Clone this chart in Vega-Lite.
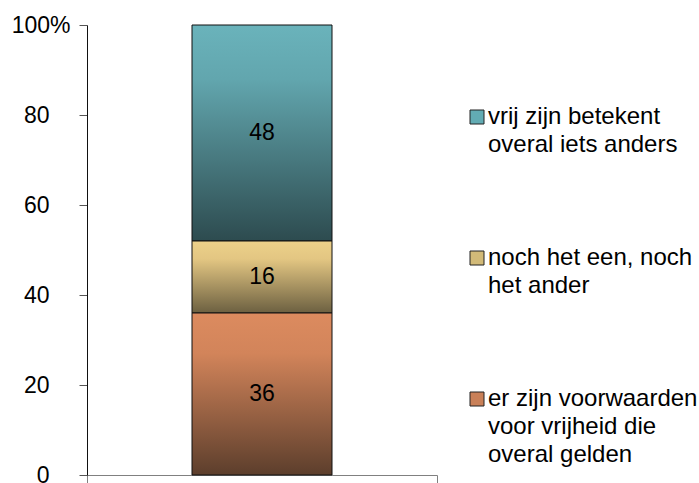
{
  "$schema": "https://vega.github.io/schema/vega-lite/v6.json",
  "autosize": "none",
  "width": 350,
  "height": 450,
  "padding": {"left": 87, "top": 25, "right": 262, "bottom": 8},
  "background": "white",
  "data": {
    "values": [
      {"groep": "totaal", "antwoord": "vrij zijn betekent overal iets anders", "percentage": 48},
      {"groep": "totaal", "antwoord": "noch het een, noch het ander", "percentage": 16},
      {"groep": "totaal", "antwoord": "er zijn voorwaarden voor vrijheid die overal gelden", "percentage": 36}
    ]
  },
  "layer": [
    {
      "mark": {"type": "bar", "width": {"band": 0.4}, "stroke": "#111111", "strokeWidth": 1},
      "encoding": {
        "x": {
          "field": "groep", "type": "nominal",
          "scale": {"paddingInner": 0, "paddingOuter": 0},
          "axis": {"labels": false, "title": null, "tickBand": "extent", "tickSize": 8, "domainColor": "#808080", "tickColor": "#808080"}
        },
        "y": {
          "field": "percentage", "type": "quantitative", "stack": "zero",
          "scale": {"domain": [0, 100], "nice": false},
          "axis": {
            "values": [0, 20, 40, 60, 80, 100],
            "title": null, "grid": false, "tickSize": 8,
            "labelExpr": "datum.value == 100 ? '100%' : datum.label",
            "labelPadding": {"condition": {"test": "datum.value == 100", "value": 9}, "value": 30},
            "domainColor": "#111111", "tickColor": "#555555"
          }
        },
        "order": {"field": "antwoord", "sort": "ascending"},
        "fill": {
          "field": "antwoord", "type": "nominal",
          "scale": {
            "domain": ["vrij zijn betekent overal iets anders", "noch het een, noch het ander", "er zijn voorwaarden voor vrijheid die overal gelden"],
            "range": ["#62abb3", "#d2ba78", "#c98058"]
          },
          "legend": {
            "orient": "none", "legendX": 378, "legendY": 80,
            "title": null, "symbolType": "square", "symbolSize": 196,
            "symbolStrokeColor": "#222222", "symbolStrokeWidth": 1,
            "labelOffset": -1, "labelLimit": 320, "rowPadding": 89,
            "labelBaseline": "middle", "labelFontSize": 24,
            "labelExpr": "datum.value == 'vrij zijn betekent overal iets anders' ? ['vrij zijn betekent', 'overal iets anders'] : datum.value == 'noch het een, noch het ander' ? ['noch het een, noch', 'het ander'] : ['er zijn voorwaarden', 'voor vrijheid die', 'overal gelden']"
          },
          "condition": [
            {"test": "datum.antwoord === 'vrij zijn betekent overal iets anders'", "value": {"gradient": "linear", "x1": 0, "y1": 0, "x2": 0, "y2": 1, "stops": [{"offset": 0, "color": "#6ab3bb"}, {"offset": 0.25, "color": "#62a6ae"}, {"offset": 1, "color": "#2d4b4f"}]}},
            {"test": "datum.antwoord === 'noch het een, noch het ander'", "value": {"gradient": "linear", "x1": 0, "y1": 0, "x2": 0, "y2": 1, "stops": [{"offset": 0, "color": "#edd18a"}, {"offset": 0.25, "color": "#e3c682"}, {"offset": 1, "color": "#6c6041"}]}},
            {"test": "datum.antwoord === 'er zijn voorwaarden voor vrijheid die overal gelden'", "value": {"gradient": "linear", "x1": 0, "y1": 0, "x2": 0, "y2": 1, "stops": [{"offset": 0, "color": "#dc8b5f"}, {"offset": 0.25, "color": "#d2845a"}, {"offset": 1, "color": "#5c3e2c"}]}}
          ]
        }
      }
    },
    {
      "mark": {"type": "text", "fontSize": 23, "color": "#000000", "baseline": "middle"},
      "encoding": {
        "x": {"field": "groep", "type": "nominal"},
        "y": {"field": "percentage", "type": "quantitative", "stack": "zero", "bandPosition": 0.5},
        "detail": {"field": "antwoord"},
        "order": {"field": "antwoord", "sort": "ascending"},
        "text": {"field": "percentage", "type": "quantitative"}
      }
    }
  ],
  "config": {
    "font": "Liberation Sans",
    "view": {"stroke": null},
    "axis": {"labelFontSize": 23, "labelColor": "#000000", "labelFont": "Liberation Sans"},
    "legend": {"labelFontSize": 24, "labelColor": "#000000", "labelFont": "Liberation Sans"},
    "style": {"guide-label": {"lineHeight": 28}}
  }
}
